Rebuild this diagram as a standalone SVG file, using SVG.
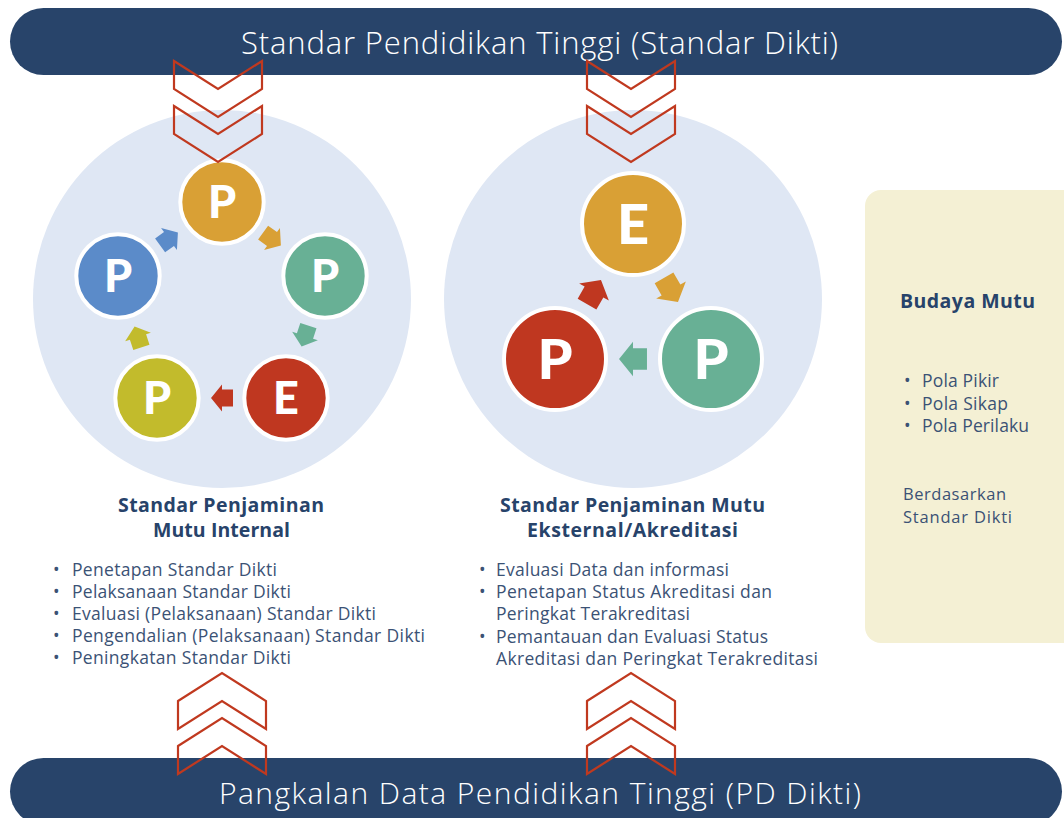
<svg xmlns="http://www.w3.org/2000/svg" xmlns:xlink="http://www.w3.org/1999/xlink" width="1064" height="818" viewBox="0 0 1064 818">
<style>
text{font-variant-ligatures:none}
.banner{fill:#28446A}
.bantext{font-family:"Open Sans",Lato,"Liberation Sans",sans-serif;font-weight:300;fill:#FFFFFF}
.bg{fill:#DFE7F4}
.node{stroke:#FFFFFF;stroke-width:4}
.ltr{font-family:Lato,"Liberation Sans",sans-serif;font-weight:900;fill:#FFFFFF;text-anchor:middle}
.head{font-family:"Open Sans",Lato,"Liberation Sans",sans-serif;font-weight:700;fill:#27436A;font-size:19.5px}
.item{font-family:"Open Sans",Lato,"Liberation Sans",sans-serif;font-weight:400;fill:#3B5275;font-size:17.5px}
.chev{fill:none;stroke:#C0391F;stroke-width:2.2;stroke-linejoin:miter}
</style>
<defs>
<path id="chevDown" d="M-44,0 L0,28 L44,0 L44,28 L0,56 L-44,28 Z"/>
<path id="chevUp" d="M-44,28 L0,0 L44,28 L44,56 L0,28 L-44,56 Z"/>
<path id="arr" d="M-11,-8.5 L0,-8.5 L0,-13.5 L11,0 L0,13.5 L0,8.5 L-11,8.5 Z"/>
</defs>
<rect width="1064" height="818" fill="#FFFFFF"/>

<g id="banner-top">
<rect class="banner" x="10" y="8" width="1052" height="67" rx="33.5"/>
<text class="bantext" x="241" y="54" font-size="31" textLength="597" lengthAdjust="spacing">Standar Pendidikan Tinggi (Standar Dikti)</text>
</g>
<g id="banner-bottom">
<rect class="banner" x="10" y="758" width="1052" height="67" rx="33.5"/>
<text class="bantext" x="219" y="804" font-size="30" textLength="642" lengthAdjust="spacing">Pangkalan Data Pendidikan Tinggi (PD Dikti)</text>
</g>

<g id="spmi">
<circle class="bg" cx="222" cy="299" r="189"/>
<text class="head" x="118" y="512" textLength="206" lengthAdjust="spacing">Standar Penjaminan</text>
<text class="head" x="153" y="537" textLength="137" lengthAdjust="spacing">Mutu Internal</text>
<g class="item">
<text x="53" y="576">•</text><text x="72" y="576" textLength="205" lengthAdjust="spacing">Penetapan Standar Dikti</text>
<text x="53" y="598">•</text><text x="72" y="598" textLength="219" lengthAdjust="spacing">Pelaksanaan Standar Dikti</text>
<text x="53" y="620">•</text><text x="72" y="620" textLength="304" lengthAdjust="spacing">Evaluasi (Pelaksanaan) Standar Dikti</text>
<text x="53" y="642">•</text><text x="72" y="642" textLength="353" lengthAdjust="spacing">Pengendalian (Pelaksanaan) Standar Dikti</text>
<text x="53" y="664">•</text><text x="72" y="664" textLength="219" lengthAdjust="spacing">Peningkatan Standar Dikti</text>
</g>
</g>

<g id="spme">
<circle class="bg" cx="633" cy="299" r="189"/>
<text class="head" x="500" y="512" textLength="265" lengthAdjust="spacing">Standar Penjaminan Mutu</text>
<text class="head" x="527" y="537" textLength="211" lengthAdjust="spacing">Eksternal/Akreditasi</text>
<g class="item">
<text x="479" y="576">•</text><text x="496" y="576" textLength="233" lengthAdjust="spacing">Evaluasi Data dan informasi</text>
<text x="479" y="598">•</text><text x="496" y="598" textLength="276" lengthAdjust="spacing">Penetapan Status Akreditasi dan</text>
<text x="496" y="620" textLength="194" lengthAdjust="spacing">Peringkat Terakreditasi</text>
<text x="479" y="643">•</text><text x="496" y="643" textLength="272" lengthAdjust="spacing">Pemantauan dan Evaluasi Status</text>
<text x="496" y="665" textLength="322" lengthAdjust="spacing">Akreditasi dan Peringkat Terakreditasi</text>
</g>
</g>

<g id="budaya">
<rect x="865" y="190" width="215" height="453" rx="16" fill="#F4F0D4"/>
<text class="head" x="900" y="308" textLength="135" lengthAdjust="spacing">Budaya Mutu</text>
<g class="item">
<text x="904" y="387">•</text><text x="922" y="387" textLength="77" lengthAdjust="spacing">Pola Pikir</text>
<text x="904" y="410">•</text><text x="922" y="410" textLength="86" lengthAdjust="spacing">Pola Sikap</text>
<text x="904" y="432">•</text><text x="922" y="432" textLength="107" lengthAdjust="spacing">Pola Perilaku</text>
<text x="903" y="500" font-size="16.5" textLength="103" lengthAdjust="spacing">Berdasarkan</text>
<text x="903" y="523" font-size="16.5" textLength="109" lengthAdjust="spacing">Standar Dikti</text>
</g>
</g>

<g id="node-l1"><circle class="node" cx="222" cy="202" r="41.7" fill="#D9A035"/><text class="ltr" x="222" y="218" font-size="45">P</text></g>
<g id="node-l2"><circle class="node" cx="325" cy="276" r="41.7" fill="#68B095"/><text class="ltr" x="325" y="292" font-size="45">P</text></g>
<g id="node-l3"><circle class="node" cx="286" cy="398" r="41.7" fill="#BF3720"/><text class="ltr" x="286" y="414" font-size="45">E</text></g>
<g id="node-l4"><circle class="node" cx="157" cy="398" r="41.7" fill="#C2BB2C"/><text class="ltr" x="157" y="414" font-size="45">P</text></g>
<g id="node-l5"><circle class="node" cx="118" cy="276" r="41.7" fill="#5B8BC9"/><text class="ltr" x="118" y="292" font-size="45">P</text></g>

<g id="node-r1"><circle class="node" cx="633" cy="224" r="51" fill="#D9A035"/><text class="ltr" x="633" y="244" font-size="56">E</text></g>
<g id="node-r2"><circle class="node" cx="711" cy="359" r="51" fill="#68B095"/><text class="ltr" x="711" y="379" font-size="56">P</text></g>
<g id="node-r3"><circle class="node" cx="555" cy="359" r="51" fill="#BF3720"/><text class="ltr" x="555" y="379" font-size="56">P</text></g>

<g id="connectors">
<use xlink:href="#arr" fill="#D9A035" transform="translate(272,239) rotate(36)"/>
<use xlink:href="#arr" fill="#68B095" transform="translate(305,336) rotate(108)"/>
<use xlink:href="#arr" fill="#BF3720" transform="translate(222,398) rotate(180)"/>
<use xlink:href="#arr" fill="#C2BB2C" transform="translate(138,337) rotate(252)"/>
<use xlink:href="#arr" fill="#5B8BC9" transform="translate(169,239) rotate(324)"/>

<use xlink:href="#arr" fill="#D9A035" transform="translate(671,290) rotate(60) scale(1.27)"/>
<use xlink:href="#arr" fill="#68B095" transform="translate(633,359) rotate(180) scale(1.27)"/>
<use xlink:href="#arr" fill="#BF3720" transform="translate(594,292) rotate(300) scale(1.27)"/>

<use xlink:href="#chevDown" class="chev" transform="translate(218,61)"/>
<use xlink:href="#chevDown" class="chev" transform="translate(218,106)"/>
<use xlink:href="#chevDown" class="chev" transform="translate(631,61)"/>
<use xlink:href="#chevDown" class="chev" transform="translate(631,106)"/>
<use xlink:href="#chevUp" class="chev" transform="translate(222,673)"/>
<use xlink:href="#chevUp" class="chev" transform="translate(222,718)"/>
<use xlink:href="#chevUp" class="chev" transform="translate(631,673)"/>
<use xlink:href="#chevUp" class="chev" transform="translate(631,718)"/>
</g>
</svg>
